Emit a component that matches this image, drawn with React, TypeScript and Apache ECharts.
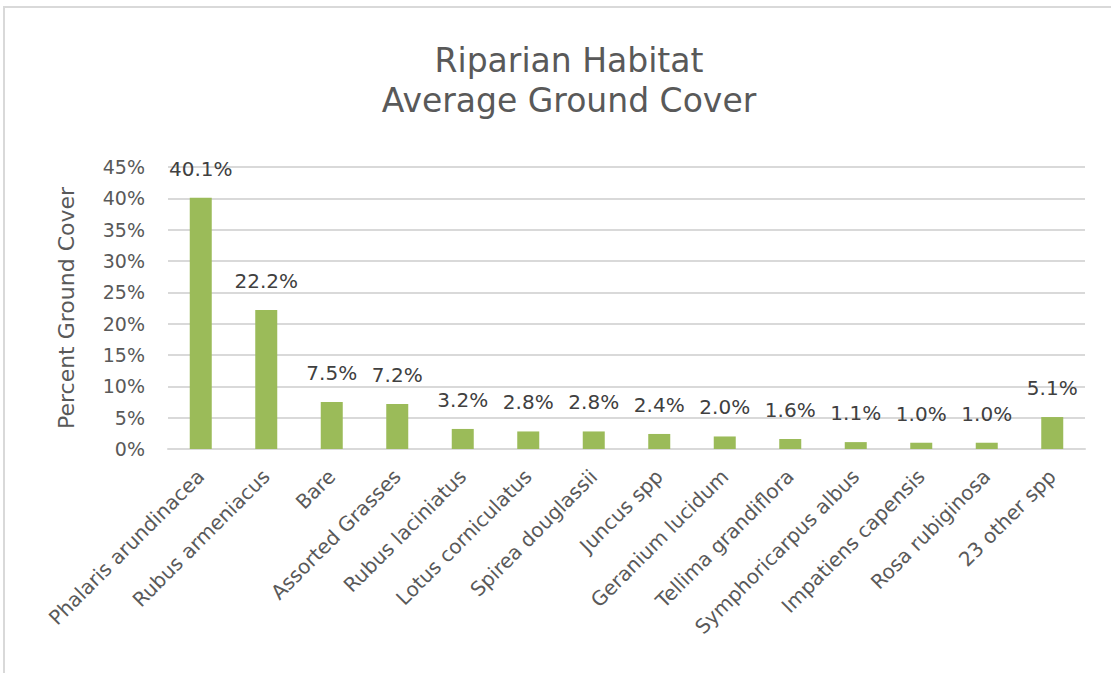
import React, { useEffect, useRef } from "react";
import * as echarts from "echarts";

const categories = [
  "Phalaris arundinacea",
  "Rubus armeniacus",
  "Bare",
  "Assorted Grasses",
  "Rubus laciniatus",
  "Lotus corniculatus",
  "Spirea douglassii",
  "Juncus spp",
  "Geranium lucidum",
  "Tellima grandiflora",
  "Symphoricarpus albus",
  "Impatiens capensis",
  "Rosa rubiginosa",
  "23 other spp",
];

const groundCover = [40.1, 22.2, 7.5, 7.2, 3.2, 2.8, 2.8, 2.4, 2.0, 1.6, 1.1, 1.0, 1.0, 5.1];

const titleLines = ["Riparian Habitat", "Average Ground Cover"];
const yAxisTitle = "Percent Ground Cover";

const FONT = "'DejaVu Sans', 'Noto Sans', sans-serif";

export default function App() {
  const ref = useRef<HTMLDivElement>(null);

  useEffect(() => {
    if (!ref.current) return;
    const chart = echarts.init(ref.current, undefined, { renderer: "svg" });
    chart.setOption({
      animation: false,
      backgroundColor: "#ffffff",
      title: {
        text: titleLines.join("\n"),
        left: 564,
        top: 35,
        textAlign: "center",
        textStyle: {
          fontFamily: FONT,
          fontSize: 33,
          fontWeight: "normal",
          color: "#595959",
          lineHeight: 40,
        },
      },
      graphic: [
        {
          type: "rect",
          shape: { x: 4, y: 7, width: 1200, height: 800 },
          style: { fill: "none", stroke: "#d9d9d9", lineWidth: 2 },
          silent: true,
        },
      ],
      grid: { left: 168, right: 26, top: 167, bottom: 224, containLabel: false },
      xAxis: {
        type: "category",
        data: categories,
        axisLine: { show: true, lineStyle: { color: "#d9d9d9", width: 2 } },
        axisTick: { show: false },
        axisLabel: {
          interval: 0,
          rotate: 45,
          margin: 24,
          fontFamily: FONT,
          fontSize: 20,
          color: "#595959",
        },
      },
      yAxis: {
        type: "value",
        min: 0,
        max: 45,
        interval: 5,
        name: yAxisTitle,
        nameLocation: "middle",
        nameGap: 91,
        nameTextStyle: { fontFamily: FONT, fontSize: 22, color: "#595959" },
        axisLine: { show: false },
        axisTick: { show: false },
        splitLine: { lineStyle: { color: "#d9d9d9", width: 2 } },
        axisLabel: {
          formatter: (v: number) => `${v}%`,
          margin: 23,
          fontFamily: FONT,
          fontSize: 19,
          color: "#595959",
        },
      },
      series: [
        {
          type: "bar",
          data: groundCover,
          barWidth: 22,
          itemStyle: { color: "#9bbb59" },
          label: {
            show: true,
            position: "top",
            distance: 19,
            formatter: (p: any) => `${Number(p.value).toFixed(1)}%`,
            fontFamily: FONT,
            fontSize: 20,
            color: "#404040",
          },
        },
      ],
    });
    return () => chart.dispose();
  }, []);

  return (
    <div
      ref={ref}
      style={{ position: "fixed", left: 0, top: 0, width: 1111, height: 673 }}
    />
  );
}
